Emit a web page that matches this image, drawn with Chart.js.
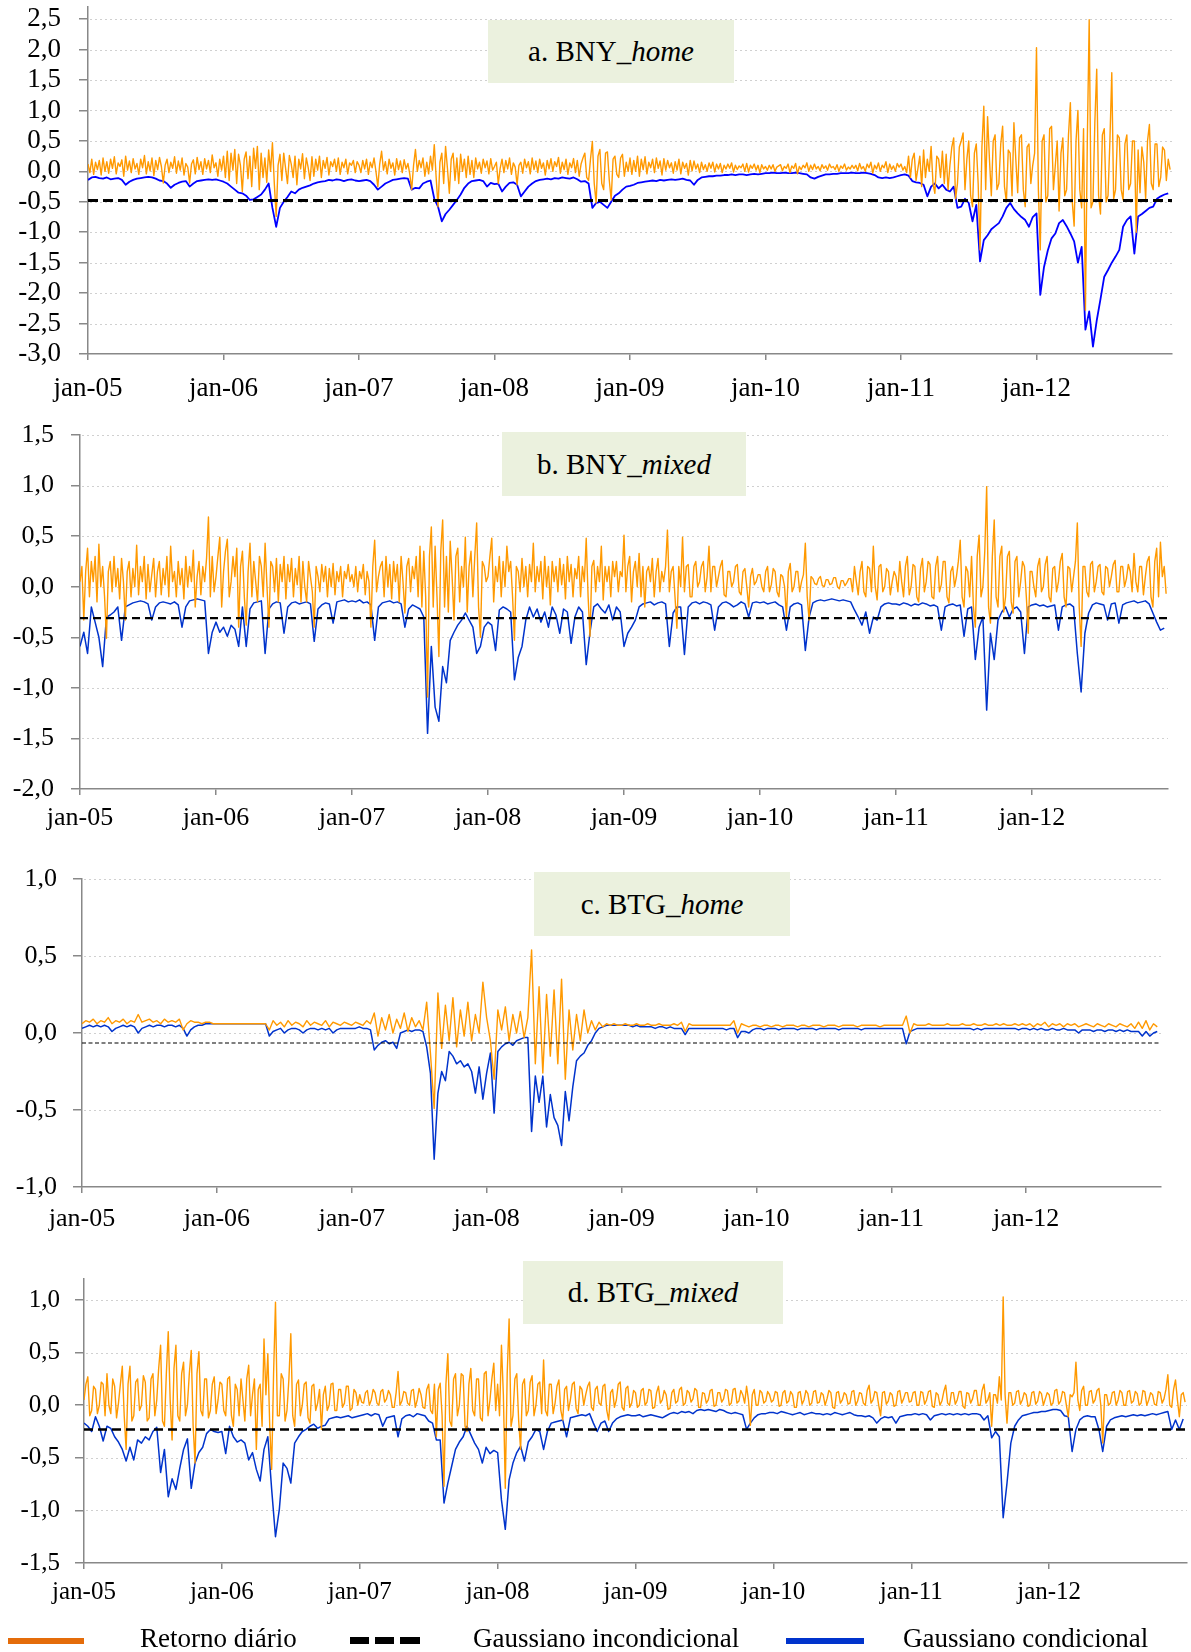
<!DOCTYPE html>
<html>
<head>
<meta charset="utf-8">
<script src="https://cdn.jsdelivr.net/npm/chart.js@4/dist/chart.umd.min.js"></script>
<style>
  body { margin: 0; background: #fff; }
  #page { position: relative; width: 1191px; height: 1652px; overflow: hidden; font-family: "Liberation Serif", "Times New Roman", serif; color: #000; }
  .pane { position: absolute; left: 0; }
  .tag { position: absolute; background: #ebf1de; display: flex; align-items: center; justify-content: center; font-size: 29px; }
  .leg { position: absolute; top: 1625px; font-size: 27px; line-height: 27px; white-space: nowrap; }
  .sw { position: absolute; }
</style>
</head>
<body>
<div id="page">
  <canvas class="pane" id="chartA" width="1191" height="443" style="top:-33px"></canvas>
  <canvas class="pane" id="chartB" width="1191" height="445" style="top:395px"></canvas>
  <canvas class="pane" id="chartC" width="1191" height="401" style="top:839px"></canvas>
  <canvas class="pane" id="chartD" width="1191" height="381" style="top:1239px"></canvas>

  <div class="tag" style="left:488px;top:20px;width:246px;height:63px">a. BNY_<i>home</i></div>
  <div class="tag" style="left:502px;top:432px;width:244px;height:64px">b. BNY_<i>mixed</i></div>
  <div class="tag" style="left:534px;top:872px;width:256px;height:64px">c. BTG_<i>home</i></div>
  <div class="tag" style="left:523px;top:1261px;width:260px;height:63px">d. BTG_<i>mixed</i></div>

  <div class="sw" style="left:8px;top:1638px;width:76px;height:6px;background:#e46c0a"></div>
  <div class="leg" style="left:140px">Retorno diário</div>
  <div class="sw" style="left:350px;top:1637px;width:19px;height:7px;background:#000"></div>
  <div class="sw" style="left:375px;top:1637px;width:19px;height:7px;background:#000"></div>
  <div class="sw" style="left:400px;top:1637px;width:20px;height:7px;background:#000"></div>
  <div class="leg" style="left:473px">Gaussiano incondicional</div>
  <div class="sw" style="left:786px;top:1638px;width:78px;height:6px;background:#0033cc"></div>
  <div class="leg" style="left:903px">Gaussiano condicional</div>
</div>

<script>
// x axis: one label per year (jan-05 .. jan-12), data runs to dec-12
const yearLabels = ['jan-05', 'jan-06', 'jan-07', 'jan-08', 'jan-09', 'jan-10', 'jan-11', 'jan-12'];
const perYear = 36;      // conditional / calm series: 36 readings a year
const perYearFine = 72;  // noisy daily-return series: 72 readings a year

// a. BNY_home
const bnyHomeTicks = [-3, -2.5, -2, -1.5, -1, -0.5, 0, 0.5, 1, 1.5, 2, 2.5];
const bnyHomeUncond = -0.48;
const bnyHomeRet = [
  0.12, -0.02, 0.2, -0.05, 0.15, 0.03, 0.18, -0.06, 0.22, 0.0, 0.16, -0.03, 0.2, 0.05, 0.24, -0.04, 0.14, 0.08, 0.19, -0.08, 0.25, 0.02, 0.17, -0.02,
  0.21, 0.04, 0.13, -0.05, 0.2, 0.06, 0.26, -0.04, 0.16, 0.01, 0.22, -0.07, 0.18, 0.03, 0.23, 0.08, -0.19, 0.1, 0.2, -0.02, 0.15, 0.05, 0.24, -0.03,
  0.17, 0.02, 0.22, -0.06, 0.13, 0.07, -0.19, 0.12, 0.19, -0.04, 0.23, 0.03, 0.16, -0.05, 0.21, 0.04, 0.18, -0.02, 0.27, 0.06, 0.14, -0.08, 0.2, 0.02,
  0.25, -0.1, 0.33, -0.15, 0.3, 0.02, 0.36, -0.2, 0.28, 0.1, -0.33, 0.2, 0.32, -0.12, 0.25, -0.25, 0.38, 0.05, 0.41, -0.3, 0.3, -0.1, 0.22, -0.18,
  0.35, 0.0, 0.47, -0.2, -0.74, 0.1, 0.28, -0.15, 0.3, 0.05, -0.2, 0.26, 0.12, -0.1, 0.25, -0.22, 0.2, 0.04, 0.29, -0.12, 0.22, 0.06, -0.15, 0.24,
  -0.08, 0.2, 0.02, 0.25, -0.1, 0.18, 0.05, 0.23, -0.06, 0.16, 0.08, 0.2, 0.0, 0.22, -0.05, 0.15, 0.06, 0.2, -0.04, 0.14, 0.1, 0.18, -0.02, 0.16,
  0.1, -0.02, 0.18, 0.04, 0.2, -0.05, 0.15, 0.06, 0.22, 0.0, -0.25, 0.12, 0.33, 0.02, 0.16, -0.04, 0.2, 0.05, 0.14, -0.06, 0.21, 0.03, 0.17, -0.02,
  0.19, 0.04, 0.13, -0.05, -0.3, 0.1, 0.36, 0.0, 0.18, 0.06, 0.22, -0.08, 0.15, -0.04, 0.25, 0.02, 0.44, -0.1, -0.58, 0.15, 0.3, -0.2, 0.41, 0.05,
  -0.36, 0.2, 0.3, -0.15, 0.22, -0.2, 0.28, 0.0, 0.2, -0.1, 0.25, -0.05, 0.18, -0.1, 0.22, 0.04, 0.15, -0.03, 0.2, 0.06, 0.17, -0.04, 0.21, 0.02,
  0.08, 0.15, -0.2, 0.05, 0.2, -0.02, 0.18, 0.04, 0.22, -0.05, 0.14, 0.07, -0.22, 0.1, 0.15, -0.03, 0.2, 0.06, 0.16, -0.04, 0.22, 0.03, 0.17, -0.02,
  0.2, 0.05, 0.14, -0.06, 0.18, 0.04, 0.21, 0.0, 0.16, 0.08, 0.23, -0.03, 0.15, 0.03, 0.2, -0.05, 0.14, 0.06, 0.21, -0.02, 0.18, -0.08, 0.12, 0.22,
  0.3, -0.1, -0.15, 0.2, 0.49, -0.2, -0.52, 0.25, 0.36, -0.2, -0.3, 0.3, 0.32, -0.15, -0.47, 0.2, 0.25, -0.05, -0.1, 0.22, 0.28, -0.08, 0.15, 0.0,
  0.22, -0.05, 0.18, 0.0, 0.25, -0.08, 0.2, 0.03, 0.24, -0.04, 0.15, 0.06, 0.2, -0.02, 0.22, 0.05, 0.17, -0.06, 0.21, 0.02, 0.18, 0.06, 0.14, -0.03,
  0.16, 0.02, 0.2, -0.04, 0.15, 0.05, 0.13, -0.06, 0.18, 0.01, 0.17, 0.04, 0.12, -0.02, 0.15, 0.03, 0.11, 0.0, 0.14, 0.05, 0.15, -0.01, 0.12, 0.04,
  0.13, -0.02, 0.1, 0.04, 0.12, 0.05, 0.14, -0.01, 0.1, 0.03, 0.09, 0.06, 0.12, 0.0, 0.13, -0.01, 0.1, 0.05, 0.12, 0.02, 0.1, -0.02, 0.11, 0.04,
  0.08, 0.02, 0.1, 0.04, 0.11, 0.0, 0.07, 0.09, 0.11, 0.01, 0.08, 0.05, 0.12, -0.02, 0.09, 0.05, 0.13, -0.04, 0.08, 0.03, 0.1, 0.06, 0.14, 0.0,
  0.1, 0.03, 0.12, 0.04, 0.08, 0.01, 0.11, 0.05, 0.09, 0.02, 0.12, 0.06, 0.08, 0.03, 0.11, 0.0, 0.09, 0.05, 0.12, 0.02, 0.07, 0.04, 0.1, 0.05,
  0.1, 0.01, 0.13, 0.04, 0.08, 0.0, 0.12, 0.06, 0.15, -0.03, 0.1, 0.04, 0.14, 0.0, 0.1, 0.06, 0.16, -0.02, 0.12, 0.03, 0.09, 0.0, 0.13, 0.07,
  0.12, 0.02, 0.08, -0.02, 0.25, -0.1, 0.2, 0.3, -0.15, 0.05, 0.25, -0.25, 0.35, -0.1, 0.2, 0.0, 0.41, -0.2, -0.36, 0.25, 0.2, -0.1, 0.33, -0.2,
  0.28, -0.3, 0.1, 0.4, 0.55, -0.45, -0.2, 0.4, 0.5, 0.63, -0.3, 0.2, 0.5, -0.4, -0.58, 0.3, 0.45, -0.2, -1.29, 0.4, 1.07, -0.3, 0.9, 0.2,
  -0.4, 0.5, 0.6, -0.3, -0.2, 0.45, 0.74, -0.25, -0.5, 0.35, 0.3, -0.4, 0.8, 0.2, -0.35, 0.55, 0.6, -0.3, -0.58, 0.4, 0.45, -0.2, 0.1, 0.3,
  2.03, -0.3, -1.29, 0.5, 0.6, -0.5, -0.4, 0.7, 0.74, -0.3, 0.1, 0.5, -0.65, 0.3, 0.55, -0.4, -0.3, 0.6, 1.13, -0.5, -0.9, 0.5, 1.0, -0.3,
  -0.6, 0.7, -2.28, 0.5, 2.49, -0.6, -0.5, 0.8, 1.68, -0.4, -0.7, 0.6, 0.7, -0.5, -0.4, 0.5, 1.62, -0.45, -0.3, 0.6, 0.55, -0.3, -0.47, 0.45,
  0.6, -0.3, -0.2, 0.5, 0.5, -1.0, 0.35, -0.35, 0.4, 0.15, -0.45, 0.5, 0.77, -0.2, -0.3, 0.45, 0.45, -0.25, -0.1, 0.4, 0.35, -0.15, 0.2, 0.03
];
const bnyHomeCond = [
  -0.14, -0.1, -0.09, -0.11, -0.12, -0.1, -0.13, -0.12, -0.11, -0.14, -0.22, -0.17, -0.14, -0.12, -0.11, -0.1, -0.09, -0.1, -0.12, -0.15, -0.16, -0.2, -0.27, -0.22, -0.19, -0.17, -0.16, -0.25, -0.2, -0.16, -0.15, -0.14, -0.13, -0.14, -0.13, -0.15,
  -0.17, -0.2, -0.25, -0.3, -0.35, -0.36, -0.4, -0.47, -0.46, -0.42, -0.38, -0.3, -0.2, -0.6, -0.91, -0.6, -0.5, -0.42, -0.33, -0.36, -0.3, -0.27, -0.25, -0.23, -0.2, -0.18, -0.17, -0.16, -0.14, -0.15, -0.13, -0.14, -0.16, -0.14, -0.13, -0.15,
  -0.16, -0.15, -0.14, -0.16, -0.22, -0.3, -0.25, -0.2, -0.17, -0.14, -0.13, -0.12, -0.11, -0.12, -0.3, -0.27, -0.28, -0.2, -0.17, -0.15, -0.45, -0.58, -0.82, -0.7, -0.63, -0.55, -0.47, -0.38, -0.27, -0.2, -0.16, -0.15, -0.14, -0.16, -0.25, -0.19,
  -0.21, -0.2, -0.33, -0.25, -0.19, -0.18, -0.22, -0.41, -0.33, -0.25, -0.2, -0.16, -0.14, -0.13, -0.12, -0.13, -0.11, -0.12, -0.1, -0.11, -0.12, -0.1, -0.13, -0.17, -0.16, -0.2, -0.6, -0.52, -0.5, -0.55, -0.6, -0.5, -0.4, -0.36, -0.3, -0.25,
  -0.24, -0.22, -0.19, -0.18, -0.17, -0.16, -0.15, -0.16, -0.14, -0.15, -0.14, -0.13, -0.14, -0.13, -0.12, -0.14, -0.15, -0.22, -0.14, -0.1, -0.09, -0.08, -0.08, -0.07, -0.07, -0.06, -0.06, -0.05, -0.06, -0.05, -0.05, -0.06, -0.05, -0.04, -0.05, -0.04,
  -0.03, -0.03, -0.02, -0.03, -0.03, -0.02, -0.03, -0.03, -0.02, -0.03, -0.04, -0.05, -0.1, -0.12, -0.09, -0.07, -0.05, -0.05, -0.04, -0.04, -0.03, -0.03, -0.03, -0.02, -0.03, -0.03, -0.02, -0.03, -0.04, -0.06, -0.1, -0.11, -0.1, -0.11, -0.1, -0.08,
  -0.06, -0.05, -0.07, -0.16, -0.18, -0.19, -0.22, -0.41, -0.25, -0.2, -0.28, -0.22, -0.3, -0.33, -0.25, -0.6, -0.58, -0.45, -0.52, -0.82, -0.55, -1.48, -1.13, -1.05, -0.95, -0.9, -0.85, -0.74, -0.6, -0.52, -0.62, -0.69, -0.75, -0.8, -0.91, -0.75,
  -0.69, -2.03, -1.57, -1.3, -1.1, -1.02, -0.85, -0.8, -0.9, -1.02, -1.15, -1.5, -1.24, -2.6, -2.3, -2.88, -2.45, -2.1, -1.73, -1.62, -1.5, -1.4, -1.29, -0.91, -0.8, -0.74, -1.35, -0.74, -0.7, -0.65, -0.6, -0.58, -0.45, -0.41, -0.38, -0.36
];

// b. BNY_mixed
const bnyMixedTicks = [-2, -1.5, -1, -0.5, 0, 0.5, 1, 1.5];
const bnyMixedUncond = -0.31;
const bnyMixedRet = [
  0.05, 0.2, -0.33, 0.15, 0.38, -0.1, 0.25, 0.05, 0.3, -0.15, 0.42, 0.0, 0.2, -0.1, -0.51, 0.15, 0.25, -0.05, 0.3, 0.0, 0.18, -0.12, 0.28, 0.05,
  -0.33, 0.15, 0.25, -0.1, 0.18, 0.0, 0.41, -0.08, 0.2, 0.05, 0.3, -0.12, 0.22, -0.05, 0.12, 0.28, -0.1, 0.15, 0.25, -0.08, 0.18, 0.02, 0.3, -0.1,
  0.4, 0.05, 0.15, -0.1, 0.25, 0.02, 0.18, -0.12, 0.3, 0.0, 0.2, 0.05, 0.36, -0.2, 0.1, 0.25, -0.08, 0.2, 0.05, 0.28, 0.69, -0.1, 0.3, -0.05,
  0.1, 0.3, 0.49, -0.2, 0.15, 0.35, 0.47, -0.1, 0.05, 0.3, 0.1, 0.38, -0.4, 0.2, 0.35, -0.1, -0.38, 0.15, 0.43, -0.1, 0.25, 0.05, -0.15, 0.3,
  0.2, -0.1, 0.43, 0.0, -0.4, 0.25, 0.2, -0.05, 0.28, -0.15, 0.22, 0.05, 0.3, -0.12, 0.22, 0.05, 0.28, -0.1, 0.18, 0.02, 0.3, -0.15, 0.25, 0.0,
  -0.15, 0.25, 0.1, -0.05, -0.4, 0.2, 0.1, -0.05, 0.22, 0.05, 0.2, -0.1, 0.18, 0.0, 0.23, -0.08, 0.15, 0.05, 0.2, -0.1, 0.15, 0.08, 0.22, 0.05,
  0.12, 0.0, 0.2, -0.05, 0.15, 0.08, 0.22, -0.08, 0.15, 0.05, -0.4, 0.2, 0.46, -0.05, 0.1, 0.2, 0.25, -0.1, 0.3, 0.0, 0.22, -0.12, 0.25, 0.05,
  0.22, -0.15, 0.3, 0.05, -0.26, 0.2, 0.28, -0.05, 0.2, 0.08, 0.3, -0.1, 0.4, -0.2, 0.35, -0.1, -1.09, 0.3, 0.59, -0.2, 0.4, -0.1, -0.69, 0.35,
  0.66, -0.2, 0.3, -0.25, 0.45, 0.1, -0.33, 0.3, 0.38, -0.15, 0.2, 0.0, 0.49, -0.25, 0.2, 0.35, -0.1, 0.3, 0.63, -0.2, -0.5, 0.25, 0.2, 0.05,
  0.1, 0.3, 0.48, -0.15, 0.2, 0.05, 0.3, -0.1, 0.25, 0.0, 0.4, 0.15, 0.25, -0.1, -0.53, 0.2, 0.15, -0.05, 0.28, 0.0, 0.2, -0.1, 0.22, 0.05,
  0.43, -0.05, 0.2, 0.05, 0.25, -0.12, 0.3, 0.0, 0.2, -0.18, 0.25, 0.05, 0.2, -0.05, 0.28, 0.02, 0.22, -0.12, 0.3, 0.05, 0.22, -0.1, 0.18, 0.08,
  0.3, -0.1, 0.2, 0.05, 0.48, -0.1, -0.49, 0.2, 0.26, -0.05, 0.2, 0.05, 0.4, -0.13, 0.2, 0.05, 0.2, -0.1, 0.25, 0.1, 0.25, -0.05, 0.15, 0.1,
  0.51, -0.05, 0.2, 0.3, -0.15, 0.15, 0.25, 0.0, 0.33, -0.1, 0.2, -0.2, 0.15, 0.2, 0.05, 0.28, -0.1, 0.15, 0.28, -0.05, 0.15, 0.05, 0.2, 0.56,
  -0.05, 0.15, 0.2, -0.1, -0.41, 0.2, 0.0, 0.49, -0.05, 0.2, 0.22, -0.1, -0.1, 0.2, 0.25, 0.0, 0.05, 0.2, 0.25, -0.05, 0.1, 0.4, -0.05, 0.2,
  0.2, 0.0, 0.1, 0.2, 0.26, -0.08, -0.1, 0.15, 0.15, 0.0, 0.05, 0.2, 0.22, -0.05, -0.08, 0.15, 0.18, 0.0, -0.2, 0.1, 0.18, 0.02, 0.05, 0.12,
  0.12, 0.0, -0.05, 0.15, 0.2, -0.05, 0.02, 0.18, 0.15, -0.05, -0.1, 0.12, 0.1, 0.0, -0.3, 0.15, 0.23, -0.05, 0.0, 0.15, 0.15, -0.05, 0.05, 0.12,
  0.43, -0.1, -0.33, 0.1, 0.08, 0.03, 0.02, 0.08, 0.1, 0.01, 0.0, 0.07, 0.07, 0.02, 0.03, 0.09, 0.09, 0.0, -0.02, 0.06, 0.06, 0.01, 0.04, 0.08,
  0.08, -0.05, 0.2, 0.05, -0.08, 0.15, 0.25, -0.05, -0.1, 0.2, 0.18, -0.05, 0.4, 0.0, -0.13, 0.2, 0.22, -0.05, 0.0, 0.18, 0.15, -0.08, 0.05, 0.15,
  0.1, -0.05, 0.25, 0.05, -0.1, 0.2, 0.3, -0.08, 0.0, 0.22, 0.2, -0.1, -0.15, 0.18, 0.28, -0.05, 0.05, 0.25, 0.22, -0.1, -0.12, 0.2, 0.3, -0.05,
  0.02, 0.25, 0.25, -0.1, -0.16, 0.15, 0.2, 0.0, 0.1, 0.25, 0.46, -0.1, -0.2, 0.2, 0.15, -0.1, 0.3, -0.2, -0.4, 0.3, 0.51, -0.1, 0.0, 0.35,
  0.99, -0.2, -0.36, 0.3, 0.66, -0.1, -0.2, 0.3, 0.4, -0.25, -0.1, 0.3, 0.35, -0.15, -0.26, 0.25, 0.3, -0.1, 0.05, 0.25, 0.2, -0.1, -0.46, 0.15,
  0.15, 0.0, -0.1, 0.2, 0.28, -0.05, 0.0, 0.22, 0.3, -0.1, -0.15, 0.18, 0.2, -0.05, 0.05, 0.25, 0.33, -0.1, -0.2, 0.2, 0.18, -0.05, 0.1, 0.25,
  0.63, -0.2, -0.59, 0.2, 0.2, -0.05, -0.1, 0.22, 0.25, -0.05, 0.05, 0.2, 0.22, -0.05, -0.08, 0.2, 0.18, 0.0, 0.1, 0.22, 0.26, -0.05, -0.05, 0.2,
  0.2, 0.0, 0.08, 0.22, 0.15, -0.05, 0.33, 0.05, -0.05, 0.2, 0.2, -0.08, 0.1, 0.25, 0.3, -0.1, -0.2, 0.25, 0.38, -0.1, 0.44, 0.1, 0.2, -0.07
];
const bnyMixedCond = [
  -0.59, -0.45, -0.66, -0.2, -0.35, -0.5, -0.79, -0.3, -0.28, -0.25, -0.2, -0.53, -0.2, -0.18, -0.16, -0.15, -0.14, -0.15, -0.17, -0.33, -0.2, -0.16, -0.15, -0.16, -0.17, -0.15, -0.18, -0.4, -0.2, -0.14, -0.13, -0.12, -0.13, -0.14, -0.66, -0.45,
  -0.35, -0.45, -0.4, -0.49, -0.38, -0.42, -0.59, -0.2, -0.59, -0.22, -0.16, -0.15, -0.14, -0.66, -0.22, -0.17, -0.15, -0.16, -0.46, -0.2, -0.16, -0.15, -0.17, -0.16, -0.15, -0.17, -0.54, -0.22, -0.18, -0.16, -0.17, -0.36, -0.15, -0.14, -0.13, -0.15,
  -0.14, -0.15, -0.13, -0.16, -0.15, -0.18, -0.53, -0.2, -0.16, -0.15, -0.14, -0.16, -0.15, -0.17, -0.4, -0.22, -0.18, -0.2, -0.22, -0.3, -1.45, -0.59, -1.19, -1.33, -0.79, -0.95, -0.53, -0.45, -0.38, -0.33, -0.26, -0.33, -0.4, -0.66, -0.59, -0.4,
  -0.35, -0.38, -0.63, -0.23, -0.2, -0.22, -0.25, -0.92, -0.7, -0.59, -0.33, -0.2, -0.3, -0.22, -0.35, -0.25, -0.4, -0.2, -0.28, -0.46, -0.22, -0.25, -0.56, -0.3, -0.2, -0.25, -0.77, -0.45, -0.2, -0.17, -0.22, -0.26, -0.18, -0.33, -0.2, -0.25,
  -0.59, -0.46, -0.4, -0.33, -0.2, -0.17, -0.16, -0.15, -0.18, -0.16, -0.15, -0.17, -0.59, -0.26, -0.2, -0.2, -0.67, -0.2, -0.16, -0.15, -0.17, -0.15, -0.16, -0.18, -0.43, -0.2, -0.16, -0.15, -0.17, -0.2, -0.18, -0.15, -0.17, -0.3, -0.16, -0.15,
  -0.16, -0.15, -0.17, -0.16, -0.15, -0.18, -0.2, -0.43, -0.2, -0.17, -0.16, -0.18, -0.63, -0.3, -0.16, -0.14, -0.13, -0.14, -0.13, -0.12, -0.13, -0.14, -0.13, -0.14, -0.15, -0.23, -0.3, -0.38, -0.25, -0.46, -0.3, -0.33, -0.2, -0.17, -0.16, -0.17,
  -0.17, -0.18, -0.16, -0.17, -0.19, -0.17, -0.18, -0.16, -0.17, -0.19, -0.18, -0.2, -0.43, -0.2, -0.18, -0.17, -0.19, -0.18, -0.49, -0.22, -0.2, -0.72, -0.4, -0.3, -1.22, -0.46, -0.72, -0.33, -0.25, -0.2, -0.3, -0.22, -0.2, -0.25, -0.66, -0.2,
  -0.18, -0.17, -0.19, -0.18, -0.2, -0.19, -0.18, -0.43, -0.2, -0.18, -0.17, -0.2, -0.66, -1.04, -0.46, -0.26, -0.18, -0.16, -0.17, -0.18, -0.33, -0.17, -0.16, -0.36, -0.18, -0.16, -0.15, -0.14, -0.16, -0.15, -0.14, -0.17, -0.26, -0.35, -0.43, -0.41
];

// c. BTG_home
const btgHomeTicks = [-1, -0.5, 0, 0.5, 1];
const btgHomeUncond = -0.065;
const btgHomeRet = [
  0.06, 0.08, 0.07, 0.09, 0.06, 0.08, 0.07, 0.1, 0.06, 0.08, 0.07, 0.09, 0.06, 0.08, 0.07, 0.12, 0.07, 0.08, 0.09, 0.07, 0.08, 0.06, 0.09, 0.07, 0.08, 0.07, 0.09, 0.02, 0.06, 0.08, 0.07, 0.07, 0.06, 0.07, 0.07, 0.06,
  0.06, 0.06, 0.06, 0.06, 0.06, 0.06, 0.06, 0.06, 0.06, 0.06, 0.06, 0.06, 0.06, 0.06, 0.02, 0.08, 0.05, 0.07, 0.04, 0.08, 0.05, 0.07, 0.06, 0.04, 0.08, 0.05, 0.07, 0.06, 0.05, 0.08, 0.04, 0.07, 0.06, 0.05, 0.07, 0.06,
  0.05, 0.07, 0.06, 0.05, 0.08, 0.06, 0.13, -0.02, 0.1, 0.02, 0.12, 0.0, 0.09, 0.03, 0.13, 0.01, 0.1, 0.04, 0.08, 0.02, 0.2, -0.13, -0.49, 0.26, -0.1, 0.18, -0.05, 0.23, -0.09, 0.15, -0.02, 0.2, -0.05, 0.12, 0.0, 0.33,
  0.1, -0.05, -0.3, 0.15, 0.02, 0.17, -0.05, 0.12, 0.0, 0.14, -0.03, 0.1, 0.54, -0.2, 0.3, -0.26, 0.25, -0.15, 0.28, -0.2, 0.35, -0.3, 0.15, -0.11, 0.12, -0.05, 0.15, 0.0, 0.08, 0.02, 0.07, 0.04, 0.06, 0.05, 0.06, 0.05,
  0.05, 0.06, 0.05, 0.05, 0.06, 0.05, 0.05, 0.06, 0.05, 0.05, 0.06, 0.05, 0.05, 0.05, 0.06, 0.05, 0.07, 0.01, 0.06, 0.05, 0.05, 0.05, 0.05, 0.05, 0.05, 0.05, 0.05, 0.05, 0.05, 0.05, 0.08, 0.0, 0.06, 0.05, 0.04, 0.05,
  0.05, 0.04, 0.05, 0.05, 0.04, 0.05, 0.05, 0.04, 0.05, 0.05, 0.05, 0.04, 0.05, 0.05, 0.04, 0.05, 0.05, 0.05, 0.04, 0.05, 0.05, 0.05, 0.04, 0.05, 0.05, 0.05, 0.05, 0.04, 0.05, 0.05, 0.05, 0.05, 0.05, 0.04, 0.05, 0.05,
  0.05, 0.05, 0.05, 0.05, 0.11, 0.0, 0.06, 0.05, 0.05, 0.05, 0.06, 0.05, 0.05, 0.05, 0.05, 0.06, 0.05, 0.05, 0.05, 0.06, 0.05, 0.05, 0.06, 0.05, 0.05, 0.06, 0.05, 0.05, 0.06, 0.05, 0.06, 0.05, 0.05, 0.06, 0.05, 0.06,
  0.05, 0.06, 0.04, 0.06, 0.05, 0.07, 0.04, 0.06, 0.05, 0.06, 0.04, 0.06, 0.05, 0.06, 0.04, 0.05, 0.06, 0.05, 0.04, 0.06, 0.05, 0.04, 0.06, 0.05, 0.04, 0.06, 0.05, 0.04, 0.06, 0.03, 0.07, 0.03, 0.08, 0.02, 0.06, 0.04
];
const btgHomeCond = [
  0.03, 0.04, 0.05, 0.04, 0.05, 0.04, 0.05, 0.04, 0.01, 0.03, 0.04, 0.05, 0.04, 0.05, 0.04, 0.0, 0.03, 0.04, 0.05, 0.04, 0.05, 0.05, 0.04, 0.05, 0.05, 0.04, 0.05, 0.03, -0.02, 0.02, 0.04, 0.05, 0.05, 0.06, 0.06, 0.06,
  0.06, 0.06, 0.06, 0.06, 0.06, 0.06, 0.06, 0.06, 0.06, 0.06, 0.06, 0.06, 0.06, 0.06, -0.02, 0.01, 0.02, 0.03, 0.0, 0.02, 0.03, 0.03, 0.02, 0.0, 0.02, 0.03, 0.03, 0.02, 0.03, 0.02, 0.03, 0.0, 0.02, 0.03, 0.03, 0.03,
  0.03, 0.03, 0.04, 0.03, 0.03, 0.02, -0.11, -0.08, -0.06, -0.05, -0.07, -0.06, -0.1, 0.0, 0.01, 0.02, 0.01, 0.02, 0.02, 0.01, -0.09, -0.26, -0.82, -0.39, -0.25, -0.31, -0.12, -0.15, -0.2, -0.18, -0.22, -0.2, -0.25, -0.39, -0.22, -0.43,
  -0.26, -0.13, -0.52, -0.12, -0.09, -0.07, -0.06, -0.08, -0.05, -0.04, -0.03, -0.03, -0.64, -0.28, -0.45, -0.28, -0.61, -0.4, -0.55, -0.6, -0.73, -0.38, -0.57, -0.35, -0.18, -0.15, -0.13, -0.08, -0.05, 0.0, 0.03, 0.04, 0.05, 0.05, 0.05, 0.05,
  0.05, 0.05, 0.05, 0.04, 0.05, 0.04, 0.04, 0.04, 0.04, 0.03, 0.04, 0.04, 0.03, 0.04, 0.03, 0.03, 0.03, -0.01, 0.03, 0.03, 0.03, 0.03, 0.03, 0.03, 0.03, 0.03, 0.03, 0.03, 0.02, 0.03, 0.03, -0.03, 0.01, 0.01, 0.0, 0.02,
  0.03, 0.03, 0.02, 0.03, 0.03, 0.03, 0.02, 0.03, 0.03, 0.03, 0.03, 0.02, 0.03, 0.03, 0.03, 0.03, 0.02, 0.03, 0.03, 0.03, 0.03, 0.03, 0.02, 0.03, 0.03, 0.03, 0.03, 0.03, 0.02, 0.03, 0.03, 0.03, 0.03, 0.03, 0.03, 0.03,
  0.03, 0.03, 0.03, 0.03, -0.07, 0.01, 0.02, 0.03, 0.03, 0.03, 0.03, 0.03, 0.03, 0.03, 0.03, 0.03, 0.03, 0.03, 0.03, 0.03, 0.03, 0.03, 0.02, 0.03, 0.02, 0.03, 0.03, 0.03, 0.03, 0.03, 0.03, 0.03, 0.03, 0.03, 0.02, 0.03,
  0.03, 0.02, 0.03, 0.02, 0.03, 0.02, 0.02, 0.03, 0.02, 0.02, 0.03, 0.02, 0.02, 0.02, 0.0, 0.02, 0.02, 0.02, 0.01, 0.02, 0.02, 0.01, 0.02, 0.02, 0.01, 0.02, 0.01, 0.02, 0.01, 0.01, 0.01, -0.02, 0.01, -0.02, 0.0, 0.01
];

// d. BTG_mixed
const btgMixedTicks = [-1.5, -1, -0.5, 0, 0.5, 1];
const btgMixedUncond = -0.23;
const btgMixedRet = [
  0.05, 0.2, 0.27, -0.1, -0.05, 0.18, 0.15, -0.08, 0.0, 0.22, 0.2, -0.1, 0.3, 0.0, -0.08, 0.25, 0.18, -0.12, 0.02, 0.2, 0.37, -0.1, -0.42, 0.2,
  0.37, -0.15, -0.1, 0.22, 0.25, -0.05, 0.0, 0.28, 0.22, -0.15, -0.12, 0.25, 0.3, -0.1, 0.05, 0.35, 0.57, -0.15, -0.2, 0.3, 0.7, 0.05, -0.33, 0.35,
  0.57, -0.1, -0.15, 0.3, 0.41, -0.1, 0.0, 0.3, 0.52, -0.2, -0.55, 0.3, 0.51, -0.05, -0.1, 0.25, 0.25, -0.12, -0.05, 0.2, 0.27, -0.08, 0.05, 0.22,
  0.2, -0.05, -0.1, 0.25, 0.27, -0.1, -0.2, 0.2, 0.15, -0.1, 0.25, 0.05, -0.15, 0.25, 0.38, -0.1, 0.1, 0.25, -0.42, 0.15, 0.2, -0.2, 0.63, 0.1,
  0.49, -0.2, -0.61, 0.3, 0.98, -0.1, -0.1, 0.3, 0.25, -0.15, -0.05, 0.25, 0.68, -0.1, -0.2, 0.2, 0.24, -0.1, 0.0, 0.2, 0.22, -0.12, -0.17, 0.18,
  0.2, -0.05, 0.02, 0.15, -0.23, 0.1, 0.18, -0.05, 0.0, 0.2, 0.21, -0.05, -0.05, 0.15, 0.15, -0.02, 0.02, 0.18, 0.18, -0.05, -0.03, 0.15, 0.12, 0.0,
  0.1, 0.03, 0.02, 0.12, 0.14, 0.0, 0.05, 0.15, 0.12, 0.02, 0.0, 0.13, 0.15, 0.03, 0.06, 0.14, 0.1, -0.02, -0.02, 0.12, 0.32, 0.0, 0.04, 0.13,
  0.12, 0.02, 0.0, 0.14, 0.15, -0.02, 0.05, 0.16, 0.1, -0.02, -0.03, 0.15, 0.2, -0.05, -0.08, 0.2, -0.3, 0.15, 0.21, -0.1, -0.77, 0.2, 0.49, -0.15,
  -0.2, 0.25, 0.3, -0.1, 0.0, 0.3, 0.28, -0.2, -0.25, 0.2, 0.35, -0.05, -0.1, 0.25, 0.25, -0.12, -0.15, 0.3, 0.32, -0.1, 0.05, 0.25, 0.4, -0.05,
  0.2, -0.1, 0.57, 0.1, -0.79, 0.3, 0.82, -0.2, -0.1, 0.25, 0.3, -0.15, -0.42, 0.2, 0.25, -0.1, -0.05, 0.22, 0.28, -0.1, 0.0, 0.2, 0.22, -0.08,
  0.43, -0.05, -0.1, 0.2, 0.2, -0.08, 0.02, 0.18, 0.24, -0.05, -0.14, 0.15, 0.18, -0.05, 0.05, 0.2, 0.22, -0.03, -0.08, 0.18, 0.15, 0.0, 0.1, 0.18,
  0.22, -0.02, -0.05, 0.15, 0.18, 0.02, 0.0, 0.18, 0.2, -0.05, -0.14, 0.12, 0.15, -0.02, 0.05, 0.2, 0.22, -0.02, -0.05, 0.16, 0.18, -0.02, 0.02, 0.14,
  0.12, -0.02, 0.0, 0.14, 0.16, 0.0, 0.03, 0.15, 0.14, -0.03, -0.02, 0.12, 0.18, 0.02, 0.05, 0.14, 0.1, -0.04, -0.03, 0.12, 0.15, 0.02, 0.04, 0.15,
  0.17, 0.0, 0.02, 0.14, 0.12, 0.03, 0.06, 0.16, 0.14, -0.02, -0.02, 0.12, 0.11, 0.02, 0.05, 0.14, 0.15, -0.01, 0.0, 0.12, 0.12, 0.03, 0.06, 0.15,
  0.14, 0.0, 0.02, 0.15, 0.16, 0.02, 0.04, 0.14, 0.1, 0.02, 0.18, 0.05, -0.19, 0.1, 0.15, 0.0, 0.0, 0.14, 0.12, 0.02, 0.04, 0.13, 0.1, 0.03,
  0.05, 0.13, 0.12, -0.01, 0.0, 0.12, 0.14, 0.02, 0.04, 0.13, 0.1, -0.02, -0.02, 0.12, 0.13, 0.01, 0.05, 0.14, 0.11, 0.0, 0.02, 0.13, 0.14, 0.02,
  0.03, 0.12, 0.1, 0.0, 0.06, 0.14, 0.12, -0.02, -0.03, 0.12, 0.13, 0.02, 0.05, 0.12, 0.1, 0.01, 0.02, 0.13, 0.14, 0.0, 0.04, 0.12, 0.11, 0.02,
  0.0, 0.14, 0.19, 0.02, 0.05, 0.13, 0.12, 0.0, -0.1, 0.12, 0.13, 0.01, 0.04, 0.12, 0.1, -0.01, 0.0, 0.13, 0.14, 0.02, 0.06, 0.12, 0.12, 0.03,
  0.04, 0.12, 0.13, 0.0, 0.0, 0.13, 0.12, 0.01, 0.05, 0.13, 0.14, -0.01, -0.02, 0.12, 0.1, 0.0, 0.04, 0.13, 0.19, 0.02, 0.0, 0.12, 0.12, 0.01,
  0.05, 0.13, 0.13, -0.01, -0.03, 0.12, 0.11, 0.02, 0.06, 0.14, 0.14, 0.0, 0.0, 0.14, 0.2, 0.02, 0.05, 0.12, -0.2, 0.1, 0.1, 0.02, 0.27, 0.05,
  1.03, 0.1, -0.17, 0.12, 0.12, 0.0, 0.02, 0.13, 0.14, 0.01, 0.05, 0.12, 0.1, -0.01, 0.0, 0.12, 0.13, 0.01, 0.04, 0.13, 0.11, 0.0, 0.06, 0.12,
  0.1, 0.0, 0.02, 0.14, 0.15, 0.01, 0.04, 0.13, 0.12, 0.0, -0.11, 0.1, 0.08, 0.12, 0.41, 0.05, -0.05, 0.14, 0.18, 0.0, 0.0, 0.13, 0.14, 0.02,
  0.05, 0.14, 0.16, 0.0, -0.36, 0.1, 0.1, 0.0, 0.02, 0.12, 0.13, 0.0, 0.05, 0.14, 0.12, 0.0, 0.0, 0.13, 0.14, 0.02, 0.04, 0.13, 0.11, 0.0,
  0.02, 0.14, 0.13, 0.0, 0.05, 0.12, 0.1, 0.01, 0.0, 0.13, 0.12, 0.02, 0.06, 0.15, 0.29, 0.0, -0.02, 0.15, 0.24, 0.05, -0.11, 0.1, 0.12, 0.03
];
const btgMixedCond = [
  -0.17, -0.2, -0.25, -0.11, -0.2, -0.34, -0.2, -0.22, -0.3, -0.35, -0.42, -0.53, -0.4, -0.52, -0.33, -0.36, -0.3, -0.33, -0.25, -0.21, -0.64, -0.42, -0.87, -0.7, -0.8, -0.6, -0.42, -0.32, -0.79, -0.55, -0.45, -0.4, -0.27, -0.23, -0.25, -0.26,
  -0.25, -0.46, -0.2, -0.3, -0.35, -0.33, -0.36, -0.52, -0.45, -0.61, -0.72, -0.42, -0.3, -0.8, -1.25, -0.99, -0.55, -0.6, -0.74, -0.36, -0.3, -0.25, -0.23, -0.2, -0.18, -0.22, -0.2, -0.19, -0.13, -0.12, -0.11, -0.12, -0.11, -0.1, -0.12, -0.11,
  -0.1, -0.09, -0.08, -0.1, -0.08, -0.09, -0.2, -0.12, -0.11, -0.1, -0.3, -0.13, -0.1, -0.09, -0.11, -0.08, -0.09, -0.1, -0.15, -0.17, -0.33, -0.33, -0.93, -0.74, -0.58, -0.42, -0.35, -0.3, -0.2, -0.28, -0.36, -0.42, -0.55, -0.4, -0.46, -0.43,
  -0.45, -0.9, -1.18, -0.71, -0.55, -0.45, -0.39, -0.53, -0.35, -0.3, -0.23, -0.25, -0.42, -0.25, -0.17, -0.16, -0.15, -0.14, -0.3, -0.12, -0.11, -0.1, -0.09, -0.1, -0.08, -0.17, -0.25, -0.17, -0.15, -0.25, -0.17, -0.13, -0.11, -0.1, -0.09, -0.1,
  -0.1, -0.09, -0.11, -0.1, -0.09, -0.1, -0.11, -0.12, -0.1, -0.08, -0.07, -0.08, -0.06, -0.07, -0.06, -0.08, -0.05, -0.04, -0.05, -0.04, -0.05, -0.06, -0.04, -0.05, -0.07, -0.08, -0.07, -0.08, -0.09, -0.23, -0.17, -0.12, -0.09, -0.08, -0.08, -0.07,
  -0.07, -0.08, -0.06, -0.07, -0.08, -0.09, -0.08, -0.07, -0.09, -0.08, -0.07, -0.08, -0.08, -0.09, -0.08, -0.09, -0.07, -0.08, -0.09, -0.08, -0.07, -0.09, -0.1, -0.1, -0.11, -0.1, -0.12, -0.17, -0.13, -0.11, -0.12, -0.11, -0.17, -0.11, -0.1, -0.09,
  -0.09, -0.08, -0.09, -0.08, -0.09, -0.14, -0.1, -0.09, -0.08, -0.09, -0.08, -0.09, -0.08, -0.09, -0.08, -0.09, -0.08, -0.08, -0.09, -0.14, -0.1, -0.31, -0.25, -0.3, -1.07, -0.74, -0.36, -0.2, -0.14, -0.1, -0.09, -0.08, -0.07, -0.07, -0.06, -0.06,
  -0.05, -0.04, -0.04, -0.05, -0.1, -0.11, -0.44, -0.23, -0.14, -0.11, -0.1, -0.11, -0.11, -0.23, -0.44, -0.2, -0.14, -0.12, -0.11, -0.1, -0.11, -0.1, -0.09, -0.1, -0.09, -0.1, -0.09, -0.08, -0.09, -0.08, -0.07, -0.06, -0.23, -0.14, -0.23, -0.13
];

Chart.defaults.font.family = "'Liberation Serif', 'Times New Roman', serif";
Chart.defaults.color = '#000';

function toPoints(values, rate) {
  return values.map((v, i) => ({ x: i / rate, y: v }));
}

function fmtComma(v) {
  return v.toFixed(1).replace('.', ',');
}

// light dotted horizontal gridlines, like the Excel original
const dottedGrid = {
  id: 'dottedGrid',
  beforeDatasetsDraw(chart) {
    const { ctx, chartArea } = chart;
    const y = chart.scales.y;
    ctx.save();
    ctx.strokeStyle = '#d0d0d0';
    ctx.lineWidth = 1;
    ctx.setLineDash([2, 3]);
    y.ticks.forEach(t => {
      if (t.value <= y.min) return;
      const py = Math.round(y.getPixelForValue(t.value)) + 0.5;
      ctx.beginPath();
      ctx.moveTo(chartArea.left + 2, py);
      ctx.lineTo(chartArea.right, py);
      ctx.stroke();
    });
    ctx.restore();
  }
};

// chart area top always sits 40px below the canvas top (room for the top tick label)
const PAD_TOP = 40;

function buildPanel(id, p) {
  const datasets = [
    {
      data: [{ x: 0, y: p.uncond }, { x: 8, y: p.uncond }],
      borderColor: '#000', borderWidth: p.dashW, borderDash: p.dash, order: 0
    },
    {
      data: toPoints(p.ret, p.retRate),
      borderColor: '#ff9900', borderWidth: 1.4, order: 1
    },
    {
      data: toPoints(p.cond, perYear),
      borderColor: p.blue, borderWidth: p.blueW, order: 2
    }
  ];

  new Chart(document.getElementById(id), {
    type: 'line',
    data: { datasets },
    options: {
      responsive: false,
      animation: false,
      events: [],
      layout: { padding: { top: PAD_TOP, right: p.right, left: 0, bottom: 0 } },
      elements: {
        point: { radius: 0 },
        line: { tension: 0, borderJoinStyle: 'round', borderCapStyle: 'butt' }
      },
      plugins: { legend: { display: false }, tooltip: { enabled: false } },
      scales: {
        x: {
          type: 'linear', min: 0, max: 8,
          afterBuildTicks: s => { s.ticks = yearLabels.map((_, i) => ({ value: i })); },
          afterFit: s => { s.height = p.axisH; },
          ticks: {
            autoSkip: false, maxRotation: 0, padding: p.xPad,
            font: { size: p.fs },
            callback: v => yearLabels[v]
          },
          grid: { drawOnChartArea: false, drawTicks: true, tickLength: 6, color: '#888', lineWidth: 1.5 },
          border: { color: '#888', width: 1.5 }
        },
        y: {
          type: 'linear', min: p.min, max: p.max,
          afterBuildTicks: s => { s.ticks = p.ticks.map(v => ({ value: v })); },
          afterFit: s => { s.width = p.left; },
          ticks: {
            autoSkip: false, padding: p.yPad,
            font: { size: p.fs },
            callback: v => fmtComma(v)
          },
          grid: { drawOnChartArea: false, drawTicks: true, tickLength: 9, color: '#888', lineWidth: 1.5 },
          border: { color: '#888', width: 1.5 }
        }
      }
    },
    plugins: [dottedGrid]
  });
}

buildPanel('chartA', {
  ret: bnyHomeRet, retRate: perYearFine, cond: bnyHomeCond, uncond: bnyHomeUncond, ticks: bnyHomeTicks,
  min: -3, max: 2.7, right: 19, left: 88, axisH: 56,
  fs: 27, xPad: 13, yPad: 18,
  blue: '#0000ff', blueW: 1.8, dashW: 3, dash: [10, 5]
});
buildPanel('chartB', {
  ret: bnyMixedRet, retRate: perYearFine, cond: bnyMixedCond, uncond: bnyMixedUncond, ticks: bnyMixedTicks,
  min: -2, max: 1.5, right: 23, left: 80, axisH: 51,
  fs: 26, xPad: 8, yPad: 17,
  blue: '#0033cc', blueW: 1.5, dashW: 2.2, dash: [8, 5]
});
buildPanel('chartC', {
  ret: btgHomeRet, retRate: perYear, cond: btgHomeCond, uncond: btgHomeUncond, ticks: btgHomeTicks,
  min: -1, max: 1, right: 30, left: 82, axisH: 53,
  fs: 26, xPad: 11, yPad: 16,
  blue: '#0033cc', blueW: 1.5, dashW: 1.2, dash: [4, 2.5]
});
buildPanel('chartD', {
  ret: btgMixedRet, retRate: perYearFine, cond: btgMixedCond, uncond: btgMixedUncond, ticks: btgMixedTicks,
  min: -1.5, max: 1.2, right: 4, left: 84, axisH: 57,
  fs: 25, xPad: 8, yPad: 15,
  blue: '#0033cc', blueW: 1.5, dashW: 2.5, dash: [9, 5]
});
</script>
</body>
</html>
